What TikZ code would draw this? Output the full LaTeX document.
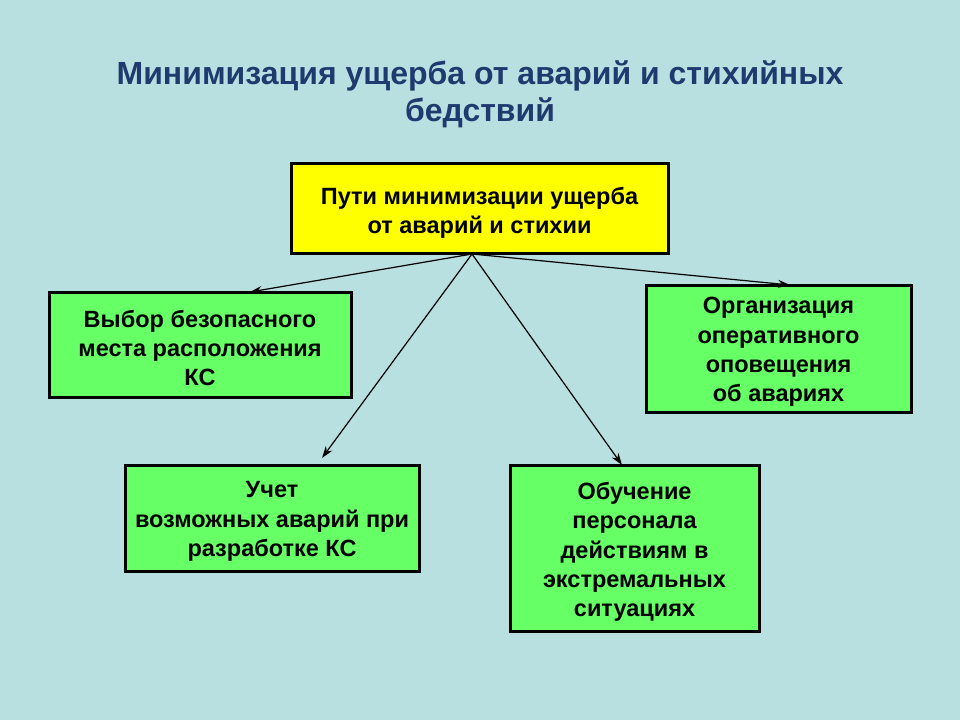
\documentclass[tikz,border=0pt]{standalone}
\usepackage{fontspec}
\setmainfont{Liberation Sans}
\usetikzlibrary{arrows.meta}
\definecolor{bgc}{HTML}{B9E0E0}
\definecolor{titlec}{HTML}{1F3A6E}
\definecolor{boxgreen}{HTML}{66FF66}
\definecolor{boxyellow}{HTML}{FFFF00}
\begin{document}
\begin{tikzpicture}[x=1pt,y=-1pt,
  box/.style={draw=black,line width=3pt,inner sep=0pt},
  greenbox/.style={box,fill=boxgreen},
  yellowbox/.style={box,fill=boxyellow},
  boxtext/.style={align=center,inner sep=0pt,
    font=\fontsize{23.5}{29.2}\selectfont\bfseries},
  conn/.style={draw=black,line width=1.2pt,-{Stealth[length=12pt,width=8pt]}},
  titletext/.style={align=center,text=titlec,font=\fontsize{32}{37}\selectfont\bfseries}]
\fill[bgc] (0,0) rectangle (960,720);
\useasboundingbox (0,0) rectangle (960,720);
\node[titletext] (title) at (480,94) {Минимизация ущерба от аварий и стихийных\\бедствий};
\node[yellowbox,minimum width=377pt,minimum height=90pt] (top) at (479.5,208) {};
\node[greenbox,minimum width=302pt,minimum height=105pt] (left) at (200,344.5) {};
\node[greenbox,minimum width=265pt,minimum height=127pt] (right) at (778.5,348.5) {};
\node[greenbox,minimum width=294pt,minimum height=106pt] (bl) at (272,518) {};
\node[greenbox,minimum width=249pt,minimum height=166pt] (br) at (634.5,548) {};
\node[boxtext] (toptext) at ([yshift=-4.5pt]top.center) {Пути минимизации ущерба\\от аварий и стихии};
\node[boxtext] (lefttext) at ([yshift=-3.5pt]left.center) {Выбор безопасного\\места расположения\\КС};
\node[boxtext] (righttext) at ([yshift=-3.5pt]right.center) {Организация\\оперативного\\оповещения\\об авариях};
\node[boxtext] (bltext) at ([yshift=-3.5pt]bl.center) {Учет\\возможных аварий при\\разработке КС};
\node[boxtext] (brtext) at ([yshift=-4pt]br.center) {Обучение\\персонала\\действиям в\\экстремальных\\ситуациях};
\coordinate (src) at (472,254);
\coordinate (tl) at (250,292);
\coordinate (tr) at (790,285);
\coordinate (tbl) at (322,458);
\coordinate (tbr) at (622,465);
\draw[conn] (src) -- (tl);
\draw[conn] (src) -- (tr);
\draw[conn] (src) -- (tbl);
\draw[conn] (src) -- (tbr);
\end{tikzpicture}
\end{document}
